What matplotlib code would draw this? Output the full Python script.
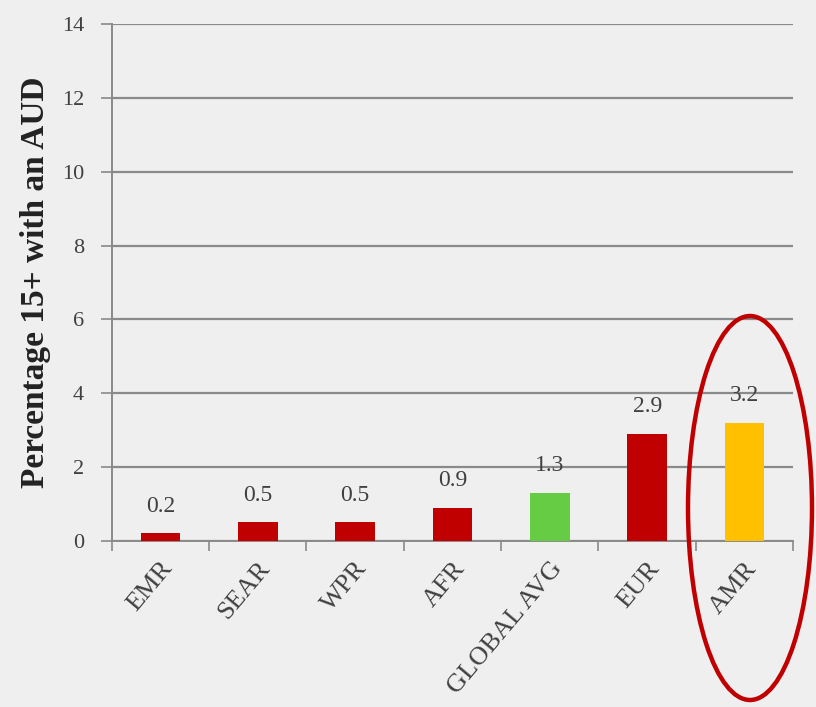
import numpy as np
import matplotlib.pyplot as plt
from matplotlib.patches import Ellipse

# data
regions = ["EMR", "SEAR", "WPR", "AFR", "GLOBAL AVG", "EUR", "AMR"]
values = [0.2, 0.5, 0.5, 0.9, 1.3, 2.9, 3.2]
colors = ["#C00000", "#C00000", "#C00000", "#C00000", "#66CC44", "#C00000", "#FFC000"]

bg = "#EFEFEF"
plt.rcParams["font.family"] = ["Liberation Serif", "DejaVu Serif"]

fig = plt.figure(figsize=(8.16, 7.07), dpi=100, facecolor=bg)
ax = fig.add_axes([0.137, 0.235, 0.835, 0.731])
ax.set_facecolor(bg)

x = np.arange(len(regions))
ax.bar(x, values, width=0.41, color=colors, zorder=3)

for xi, v in zip(x, values):
    ax.annotate(f"{v:.1f}", (xi, v), xytext=(0, 12), textcoords="offset points",
                ha="center", va="bottom", fontsize=17, color="#404040")

ax.set_ylim(0, 14)
ax.set_yticks(range(0, 15, 2))
ax.set_xlim(-0.5, len(regions) - 0.5)
ax.yaxis.grid(True, color="#8a8a8a", linewidth=1.6, zorder=0)
ax.set_axisbelow(True)

ax.set_xticks(x)
ax.set_xticklabels(regions, rotation=50, ha="right", rotation_mode="anchor",
                   fontsize=19, color="#404040")
ax.tick_params(axis="x", length=0, pad=12)
ax.set_xticks(np.arange(-0.5, len(regions)), minor=True)
ax.tick_params(axis="x", which="minor", length=7, color="#8a8a8a", width=1.2)
ax.tick_params(axis="y", length=8, color="#8a8a8a", width=1.2, labelsize=16,
               labelcolor="#404040", pad=12)

for s in ["top", "right"]:
    ax.spines[s].set_visible(False)
for s in ["left", "bottom"]:
    ax.spines[s].set_color("#8a8a8a")
    ax.spines[s].set_linewidth(1.4)

ax.set_ylabel("Percentage 15+ with an AUD", fontsize=24, fontweight="bold",
              color="#222222", labelpad=8)

# highlight ellipse around AMR
ell = Ellipse((750, 707 - 508), 124, 384, transform=None, fill=False,
              edgecolor="#C00000", linewidth=3.2, zorder=10)
fig.patches.append(ell)

fig.savefig("out.png", dpi=100, facecolor=bg)
